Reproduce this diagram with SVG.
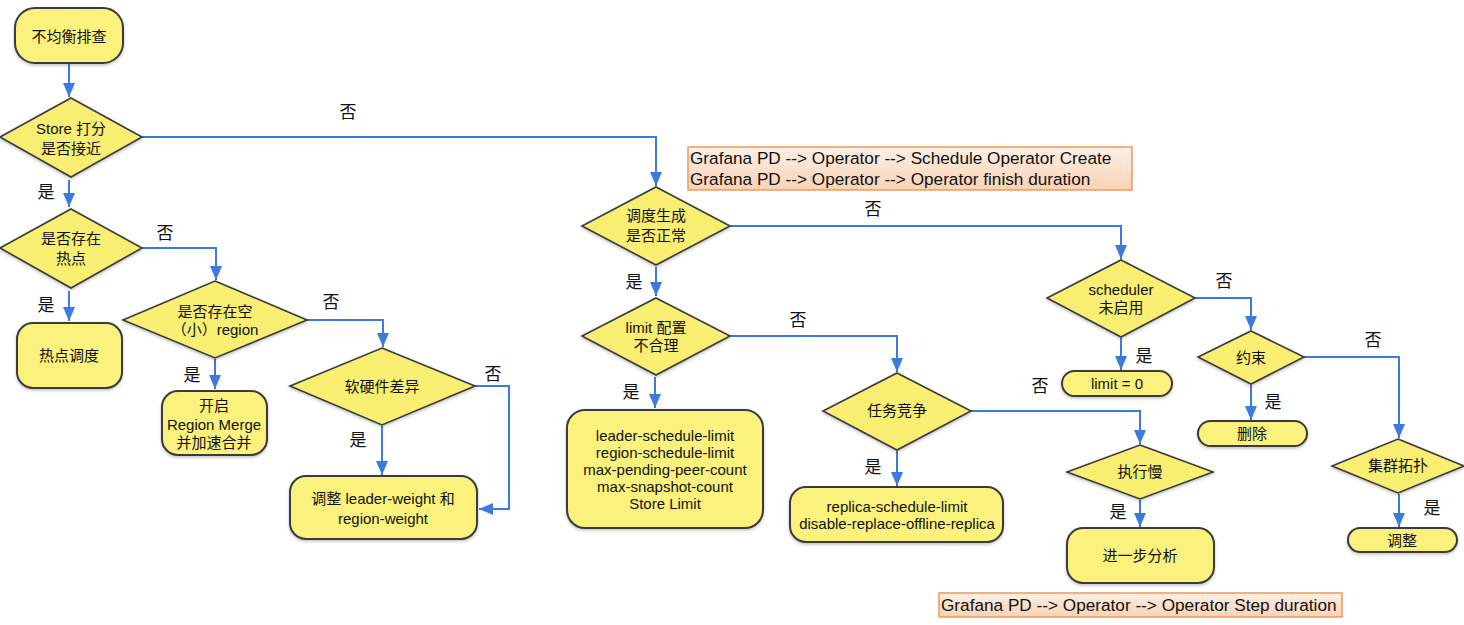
<svg xmlns="http://www.w3.org/2000/svg" width="1464" height="625" viewBox="0 0 1464 625">
<defs>
<marker id="ah" markerUnits="userSpaceOnUse" markerWidth="14" markerHeight="12" refX="14" refY="6" orient="auto">
<path d="M0,0 L14,6 L0,12 z" fill="#3d7ae0"/>
</marker>
<linearGradient id="ann" x1="0" y1="0" x2="0" y2="1">
<stop offset="0" stop-color="#fdf0e6"/>
<stop offset="1" stop-color="#f9d2b4"/>
</linearGradient>
<filter id="sh" x="-5%" y="-10%" width="110%" height="130%">
<feDropShadow dx="0" dy="1.5" stdDeviation="1.5" flood-color="#000" flood-opacity="0.25"/>
</filter>
</defs>
<style>
.r{fill:#fbf27d;stroke:#3a3a3a;stroke-width:2;filter:url(#sh)}
.d{fill:#f8ee72;stroke:#3a3a3a;stroke-width:1.6;filter:url(#sh)}
.t{font-family:"Liberation Sans","Noto Sans CJK SC",sans-serif;font-size:15px;fill:#111;text-anchor:middle;dominant-baseline:central}
.l{font-family:"Liberation Sans","Noto Sans CJK SC",sans-serif;font-size:17px;fill:#111;text-anchor:middle;dominant-baseline:central}
.a{font-family:"Liberation Sans","Noto Sans CJK SC",sans-serif;font-size:17.2px;fill:#111;dominant-baseline:central}
.ab{fill:url(#ann);stroke:#ee9a5a;stroke-width:1.5}
.c{fill:none;stroke:#3d7ae0;stroke-width:2;marker-end:url(#ah)}
</style>
<rect width="1464" height="625" fill="#ffffff"/>

<g id="connectors">
<path class="c" d="M69,64 V97"/>
<path class="c" d="M142,137 H656 V186"/>
<path class="c" d="M69,180 V207"/>
<path class="c" d="M142,248 H216 V280"/>
<path class="c" d="M69,291 V321"/>
<path class="c" d="M307,320 H383 V347"/>
<path class="c" d="M215,359 V389"/>
<path class="c" d="M382,426 V475"/>
<path class="c" d="M475,386 H509 V509 H479"/>
<path class="c" d="M656,267 V296"/>
<path class="c" d="M730,226 H1121 V259"/>
<path class="c" d="M655,377 V408"/>
<path class="c" d="M730,336 H897 V372"/>
<path class="c" d="M897,451 V486"/>
<path class="c" d="M971,411 H1140 V444"/>
<path class="c" d="M1140,500 V527"/>
<path class="c" d="M1121,338 V370"/>
<path class="c" d="M1195,298 H1251 V330"/>
<path class="c" d="M1251,385 V420"/>
<path class="c" d="M1304,357 H1399 V438"/>
<path class="c" d="M1399,494 V527"/>
</g>

<g id="edge-labels">
<text class="l" x="348" y="112">否</text>
<text class="l" x="46" y="192">是</text>
<text class="l" x="165" y="233">否</text>
<text class="l" x="46" y="305">是</text>
<text class="l" x="331" y="302">否</text>
<text class="l" x="192" y="375">是</text>
<text class="l" x="493" y="374">否</text>
<text class="l" x="358" y="440">是</text>
<text class="l" x="873" y="209">否</text>
<text class="l" x="634" y="282">是</text>
<text class="l" x="798" y="320">否</text>
<text class="l" x="631" y="392">是</text>
<text class="l" x="1040" y="386">否</text>
<text class="l" x="873" y="467">是</text>
<text class="l" x="1118" y="512">是</text>
<text class="l" x="1224" y="281">否</text>
<text class="l" x="1144" y="356">是</text>
<text class="l" x="1373" y="340">否</text>
<text class="l" x="1273" y="402">是</text>
<text class="l" x="1432" y="508">是</text>
</g>

<g id="n-start">
<rect class="r" x="15" y="8" width="108" height="55" rx="20"/>
<text class="t" x="69" y="36">不均衡排查</text>
</g>
<g id="n-store">
<polygon class="d" points="71,98 142,137 71,177 0,137"/>
<text class="t" x="71" y="128">Store 打分</text>
<text class="t" x="71" y="148">是否接近</text>
</g>
<g id="n-hot">
<polygon class="d" points="71,209 142,248 71,288 0,248"/>
<text class="t" x="71" y="238">是否存在</text>
<text class="t" x="71" y="258">热点</text>
</g>
<g id="n-hotsched">
<rect class="r" x="17" y="323" width="105" height="65" rx="16"/>
<text class="t" x="69" y="355">热点调度</text>
</g>
<g id="n-empty">
<polygon class="d" points="215,281 307,320 215,358 123,320"/>
<text class="t" x="215" y="311">是否存在空</text>
<text class="t" x="215" y="329">（小）region</text>
</g>
<g id="n-merge">
<rect class="r" x="162" y="391" width="105" height="64" rx="16"/>
<text class="t" x="214" y="405">开启</text>
<text class="t" x="214" y="424">Region Merge</text>
<text class="t" x="214" y="442">并加速合并</text>
</g>
<g id="n-hw">
<polygon class="d" points="382,348 475,386 382,425 290,386"/>
<text class="t" x="382" y="386">软硬件差异</text>
</g>
<g id="n-weight">
<rect class="r" x="290" y="476" width="187" height="63" rx="16"/>
<text class="t" x="383" y="498">调整 leader-weight 和</text>
<text class="t" x="383" y="518">region-weight</text>
</g>
<g id="n-schedgen">
<polygon class="d" points="656,187 730,226 656,265 582,226"/>
<text class="t" x="656" y="215">调度生成</text>
<text class="t" x="656" y="235">是否正常</text>
</g>
<g id="n-limitcfg">
<polygon class="d" points="656,298 730,336 656,375 582,336"/>
<text class="t" x="656" y="327">limit 配置</text>
<text class="t" x="656" y="345">不合理</text>
</g>
<g id="n-limits">
<rect class="r" x="567" y="410" width="196" height="118" rx="18"/>
<text class="t" x="665" y="435">leader-schedule-limit</text>
<text class="t" x="665" y="452">region-schedule-limit</text>
<text class="t" x="665" y="469">max-pending-peer-count</text>
<text class="t" x="665" y="486">max-snapshot-count</text>
<text class="t" x="665" y="503">Store Limit</text>
</g>
<g id="n-compete">
<polygon class="d" points="897,373 971,411 897,450 823,411"/>
<text class="t" x="897" y="410">任务竞争</text>
</g>
<g id="n-replica">
<rect class="r" x="790" y="487" width="213" height="55" rx="16"/>
<text class="t" x="897" y="506">replica-schedule-limit</text>
<text class="t" x="897" y="523">disable-replace-offline-replica</text>
</g>
<g id="n-slow">
<polygon class="d" points="1140,445 1213,472 1140,499 1067,472"/>
<text class="t" x="1140" y="471">执行慢</text>
</g>
<g id="n-analyze">
<rect class="r" x="1067" y="528" width="147" height="55" rx="16"/>
<text class="t" x="1140" y="555">进一步分析</text>
</g>
<g id="n-scheduler">
<polygon class="d" points="1121,260 1195,298 1121,337 1047,298"/>
<text class="t" x="1121" y="289">scheduler</text>
<text class="t" x="1121" y="307">未启用</text>
</g>
<g id="n-limit0">
<rect class="r" x="1062" y="371" width="110" height="25" rx="12.5"/>
<text class="t" x="1117" y="383">limit = 0</text>
</g>
<g id="n-constraint">
<polygon class="d" points="1251,331 1304,357 1251,384 1198,357"/>
<text class="t" x="1251" y="357">约束</text>
</g>
<g id="n-delete">
<rect class="r" x="1198" y="421" width="109" height="25" rx="12.5"/>
<text class="t" x="1252" y="433">删除</text>
</g>
<g id="n-topo">
<polygon class="d" points="1398,439 1464,466 1398,493 1332,466"/>
<text class="t" x="1398" y="465">集群拓扑</text>
</g>
<g id="n-adjust">
<rect class="r" x="1348" y="528" width="109" height="24" rx="12"/>
<text class="t" x="1402" y="540">调整</text>
</g>

<g id="annot-1">
<rect class="ab" x="688" y="147" width="444" height="43"/>
<text class="a" x="690" y="158">Grafana PD --&gt; Operator --&gt; Schedule Operator Create</text>
<text class="a" x="690" y="179">Grafana PD --&gt; Operator --&gt; Operator finish duration</text>
</g>
<g id="annot-2">
<rect class="ab" x="939" y="593" width="403" height="24"/>
<text class="a" x="941" y="605">Grafana PD --&gt; Operator --&gt; Operator Step duration</text>
</g>
</svg>
